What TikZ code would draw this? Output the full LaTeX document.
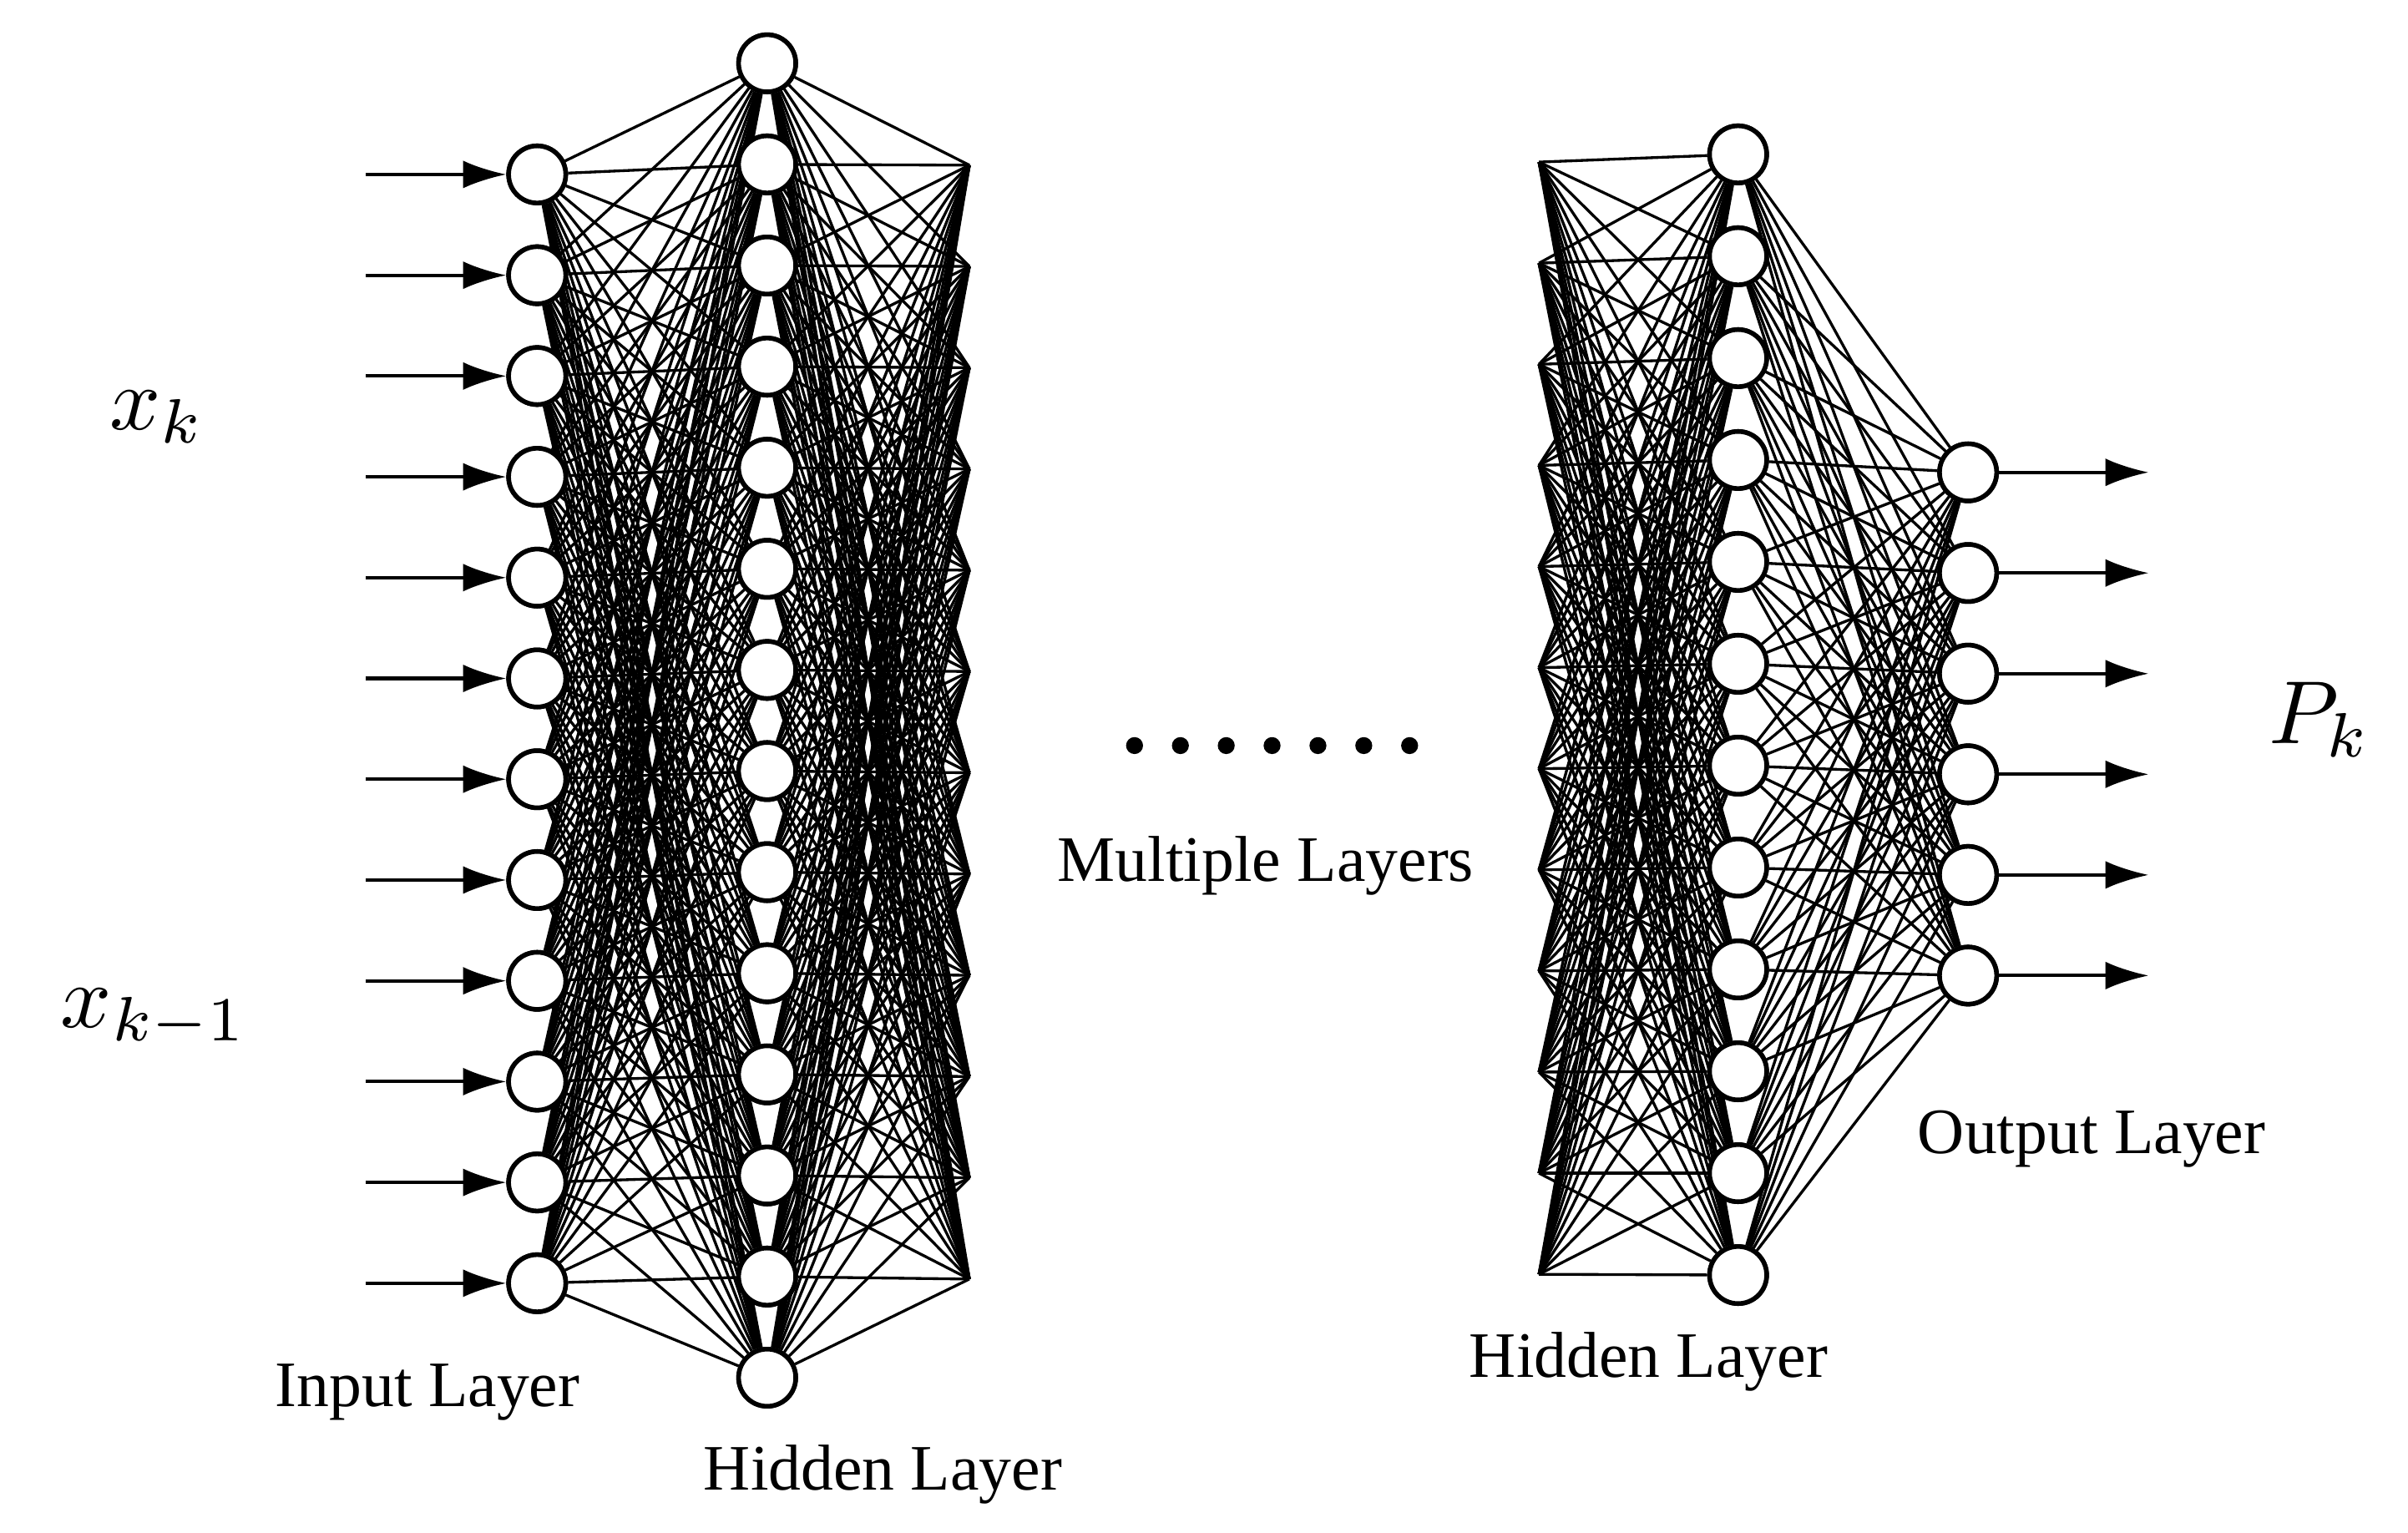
\documentclass[tikz,border=0pt]{standalone}
\usepackage{fontspec}
\setmainfont{Liberation Serif}
\usetikzlibrary{arrows.meta}
\begin{document}
\begin{tikzpicture}[x=1pt,y=-1pt,
  neuron/.style={circle,draw,line width=3pt,minimum size=37pt,inner sep=0pt,fill=white},
  edge/.style={line width=1.8pt},
  inarrow/.style={line width=2.2pt,-{Latex[length=28pt,width=18pt]}},
  lbl/.style={font=\fontsize{42}{46}\selectfont},
  mth/.style={scale=5.8}]
\useasboundingbox (0,0) rectangle (1560,993);
\foreach \i in {0,...,11} {
  \coordinate (a\i) at (628,{107+65.6*\i});
  \coordinate (b\i) at (997,{105+65.5*\i});
}
\foreach \i in {0,...,11} \node[neuron] (in\i) at (348,{113+65.3*\i}) {};
\foreach \i in {0,...,13} \node[neuron] (h\i) at (497,{41+65.5*\i}) {};
\foreach \i in {0,...,11} \node[neuron] (g\i) at (1126,{100+66*\i}) {};
\foreach \i in {0,...,5} \node[neuron] (o\i) at (1275,{306+65.2*\i}) {};
\foreach \i in {0,...,11} \foreach \j in {0,...,13} \draw[edge] (in\i) -- (h\j);
\foreach \i in {0,...,13} \foreach \j in {0,...,11} \draw[edge] (h\i) -- (a\j);
\foreach \i in {0,...,11} \foreach \j in {0,...,11} \draw[edge] (b\i) -- (g\j);
\foreach \i in {0,...,11} \foreach \j in {0,...,5} \draw[edge] (g\i) -- (o\j);
\foreach \i in {0,...,11} \node[neuron] at (348,{113+65.3*\i}) {};
\foreach \i in {0,...,13} \node[neuron] at (497,{41+65.5*\i}) {};
\foreach \i in {0,...,11} \node[neuron] at (1126,{100+66*\i}) {};
\foreach \i in {0,...,5} \node[neuron] at (1275,{306+65.2*\i}) {};
\foreach \i in {0,...,11} {
  \coordinate (s\i) at (237,{113+65.3*\i});
  \draw[inarrow] (s\i) -- (in\i);
}
\foreach \i in {0,...,5} {
  \coordinate (t\i) at (1392,{306+65.2*\i});
  \draw[inarrow] (o\i) -- (t\i);
}
\foreach \k in {0,...,6} \fill (735+29.7*\k,483) circle (5.5pt);
\node[lbl] (l1) at (277,902) {Input Layer};
\node[lbl] (l2) at (572,955) {Hidden Layer};
\node[lbl] (l3) at (820,561) {Multiple Layers};
\node[lbl] (l4) at (1068,882) {Hidden Layer};
\node[lbl] (l5) at (1355,738) {Output Layer};
\node[mth] (m1) at (102,270) {$x_k$};
\node[mth] (m2) at (100,660) {$x_{k-1}$};
\node[mth] (m3) at (1503,466) {$P_k$};
\end{tikzpicture}
\end{document}
